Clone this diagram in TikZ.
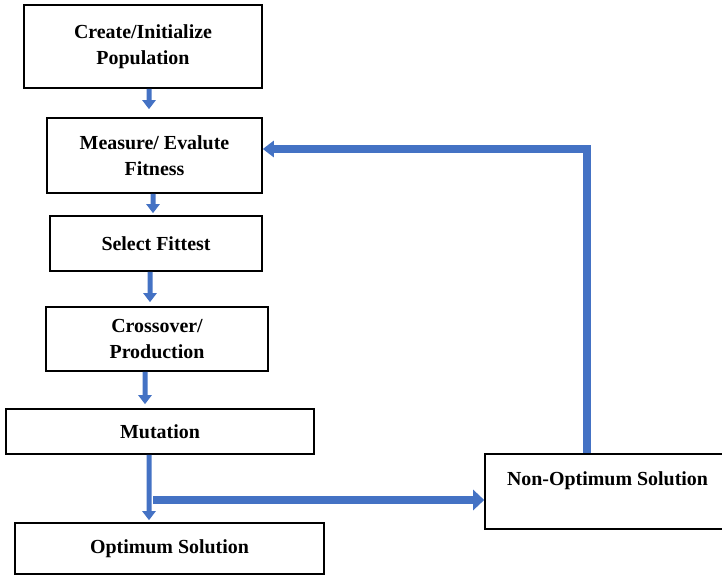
\documentclass[tikz,border=0pt]{standalone}
\usepackage{fontspec}
\setmainfont{Liberation Serif}
\usetikzlibrary{arrows.meta}
\usetikzlibrary{positioning}
\definecolor{flowblue}{HTML}{4472C4}

\begin{document}
\begin{tikzpicture}[x=1bp,y=-1bp,
  stagebox/.style={draw=black,line width=1.6bp,align=center,inner sep=0pt,font=\fontsize{20}{26}\selectfont\bfseries},
  stagearrow/.style={draw=flowblue,line width=5bp,-{Triangle[length=9bp,width=13bp]},shorten >=4bp},
  loopline/.style={draw=flowblue,line width=8bp,-{Triangle[length=11bp,width=20bp]}}]
\useasboundingbox (0,0) rectangle (722,576);

\node[stagebox,minimum width=238bp,minimum height=83bp] (init) at (143,46.5) {Create/Initialize\\Population};
\node[stagebox,minimum width=215bp,minimum height=75bp] (fit) at (154.5,155.5) {Measure/ Evalute\\Fitness};
\node[stagebox,minimum width=212bp,minimum height=55bp] (select) at (156,243.5) {Select Fittest};
\node[stagebox,minimum width=222bp,minimum height=64bp] (cross) at (157,339) {Crossover/\\Production};
\node[stagebox,minimum width=308bp,minimum height=45bp] (mut) at (160,431.5) {Mutation};
\node[stagebox,minimum width=309bp,minimum height=51bp] (opt) at (169.5,548.5) {Optimum Solution};
\node[stagebox,minimum width=245bp,minimum height=75bp] (nonopt) at (607.5,491.5) {Non-Optimum Solution\\\mbox{}};

\draw[stagearrow,shorten >=8bp] ([xshift=6bp]init.south) -- ([xshift=-5.5bp]fit.north);
\draw[stagearrow,shorten >=2bp] ([xshift=-1.5bp]fit.south) -- ([xshift=-3bp]select.north);
\draw[stagearrow] ([xshift=-6bp]select.south) -- ([xshift=-7bp]cross.north);
\draw[stagearrow] ([xshift=-12bp]cross.south) -- ([xshift=-15bp]mut.north);
\draw[stagearrow,shorten >=2bp] ([xshift=-11bp]mut.south) -- ([xshift=-20.5bp]opt.north);

\coordinate (branch) at (153,500);
\draw[loopline] (branch) -- (nonopt.west |- branch);
\coordinate (turn) at (587,149);
\draw[loopline,-{Triangle[length=11bp,width=16bp]}] (nonopt.north -| turn) -- (turn) -- (fit.east |- turn);

\end{tikzpicture}
\end{document}
